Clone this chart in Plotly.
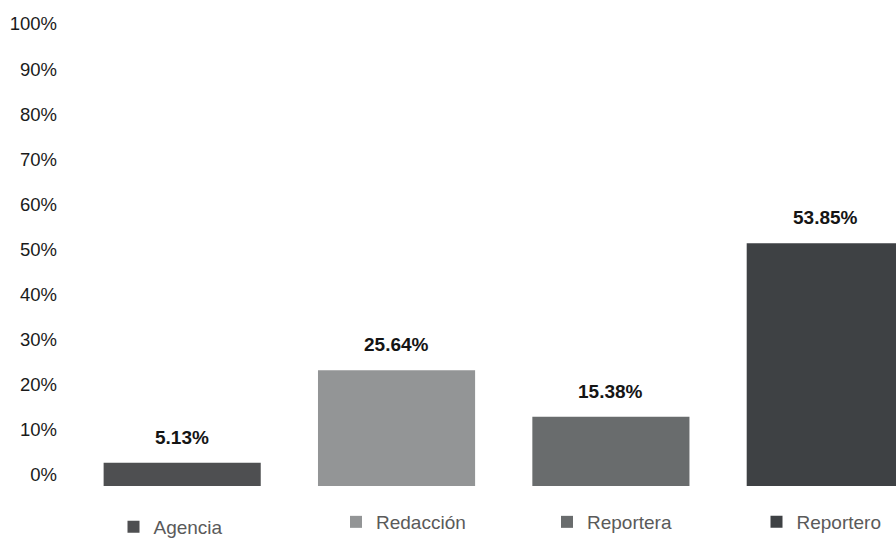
import plotly.graph_objects as go

# Category shares (percent)
categories = ["Agencia", "Redacción", "Reportera", "Reportero"]
values = [5.13, 25.64, 15.38, 53.85]
colors = ["#4e4f51", "#939596", "#696c6d", "#3e4144"]
y_ticks = [0, 10, 20, 30, 40, 50, 60, 70, 80, 90, 100]
y_tick_labels = [f"{t}%" for t in y_ticks]

W, H = 896, 538
FONT = "Liberation Sans, Arial, sans-serif"

# left edge (px) and vertical center (px) of each legend entry
legend_left = [113.5, 336.0, 547.0, 756.5]
legend_cy = [527.0, 522.0, 522.0, 522.0]
legend_names = ["legend", "legend2", "legend3", "legend4"]

fig = go.Figure()
for i, (cat, val, col) in enumerate(zip(categories, values, colors)):
    fig.add_trace(go.Bar(
        x=[i], y=[val], name=cat,
        marker=dict(color=col, line=dict(width=0)),
        legend=legend_names[i],
        hoverinfo="skip",
    ))
    fig.add_annotation(
        x=i, y=val, text=f"<b>{val:.2f}%</b>",
        showarrow=False, yanchor="bottom", yshift=13,
        font=dict(family=FONT, size=19, color="#151515"),
    )

layout_legends = {}
for name, lx, cy in zip(legend_names, legend_left, legend_cy):
    layout_legends[name] = dict(
        xref="container", yref="container",
        x=lx / W, y=1 - cy / H,
        xanchor="left", yanchor="middle",
        bgcolor="rgba(0,0,0,0)", borderwidth=0,
        font=dict(family=FONT, size=19, color="#5a5a5a"),
    )

fig.update_layout(
    width=W, height=H,
    paper_bgcolor="white", plot_bgcolor="white",
    margin=dict(l=75, r=0, t=35, b=52, pad=0, autoexpand=False),
    barmode="overlay", bargap=0.267,
    showlegend=True,
    font=dict(family=FONT),
    **layout_legends,
)
fig.update_xaxes(
    range=[-0.5, 3.33], showticklabels=False, showgrid=False,
    zeroline=False, showline=False, ticks="",
)
fig.update_yaxes(
    range=[0, 100], tickvals=y_ticks, ticktext=y_tick_labels,
    showgrid=False, zeroline=False, showline=False, ticks="",
    ticklabelshift=-11, ticklabelstandoff=17,
    tickfont=dict(family=FONT, size=18.5, color="#1a1a1a"),
)

fig.write_html("out.html")
